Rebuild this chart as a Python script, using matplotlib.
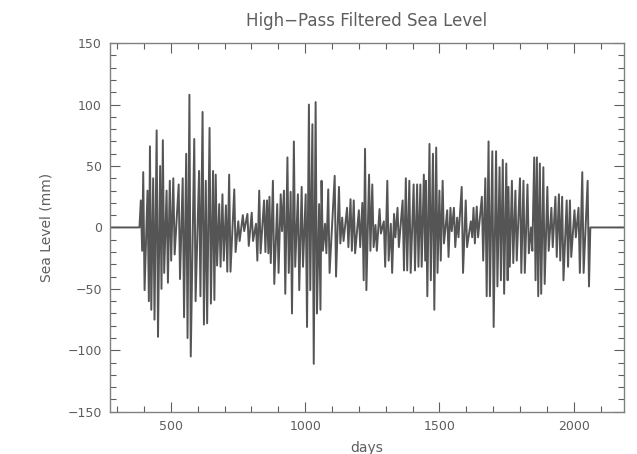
#Timeseries plot of high-pass filtered sea level
import numpy as np
import matplotlib
matplotlib.use('Agg')
import matplotlib.pyplot as plt
from matplotlib.ticker import MultipleLocator

#-------------------------------------
#values: one high and one low per fortnightly cycle
high_day = [388, 397, 413, 422, 434, 447, 460, 470, 484, 496, 509, 529, 544, 557, 569, 587,
            605, 618, 630, 644, 657, 667, 680, 692, 705, 717, 736, 751, 768, 785, 801, 817, 829, 847,
            858, 867, 880, 896, 909, 921, 934, 946, 958, 973, 987, 1002, 1014, 1027, 1039, 1052, 1061, 1074, 1086,
            1110, 1126, 1138, 1156, 1169, 1181, 1200, 1213, 1223, 1238, 1250, 1262, 1277, 1293, 1306, 1319, 1331, 1344,
            1363, 1375, 1388, 1404, 1417, 1429, 1442, 1450, 1463, 1476, 1488, 1500, 1512, 1529, 1541, 1554, 1566, 1583, 1598,
            1617, 1627, 1639, 1658, 1671, 1683, 1697, 1711, 1724, 1736, 1749, 1757, 1770, 1783, 1800, 1813, 1828, 1841, 1853, 1863,
            1874, 1887, 1902, 1917, 1932, 1945, 1957, 1974, 1986, 2003, 2018, 2032, 2052]
high_mm = [22, 45, 30, 66, 40, 79, 50, 71, 30, 38, 40, 35, 40, 60, 108, 72,
           46, 94, 38, 81, 46, 43, 19, 27, 18, 43, 31, 5, 10, 11, 12, 3, 30, 22,
           22, 25, 38, 19, 27, 30, 57, 29, 70, 27, 33, 27, 100, 84, 102, 19, 38, 3, 31,
           42, 33, 8, 16, 23, 22, 14, 20, 64, 43, 35, 2, 15, 5, 38, 3, 11, 16,
           22, 40, 38, 35, 35, 35, 43, 38, 68, 60, 65, 30, 38, 14, 16, 16, 8, 33, 22,
           5, 16, 17, 25, 40, 70, 62, 62, 49, 55, 52, 33, 38, 30, 40, 38, 35, 0, 57, 57,
           52, 49, 33, 16, 25, 27, 25, 22, 22, 14, 16, 45, 38]
low_day = [393, 402, 418, 427, 439, 452, 465, 475, 489, 501, 514, 534, 549, 562, 574, 592,
           610, 623, 635, 649, 662, 672, 685, 697, 710, 722, 741, 756, 773, 790, 806, 822, 834, 852,
           863, 872, 885, 901, 914, 926, 939, 951, 963, 978, 992, 1007, 1019, 1032, 1044, 1057, 1066, 1079, 1091,
           1115, 1131, 1143, 1161, 1174, 1186, 1205, 1218, 1228, 1243, 1255, 1267, 1282, 1298, 1311, 1324, 1336, 1349,
           1368, 1380, 1393, 1409, 1422, 1434, 1447, 1455, 1468, 1481, 1493, 1505, 1517, 1534, 1546, 1559, 1571, 1588, 1603,
           1622, 1632, 1644, 1663, 1676, 1688, 1702, 1716, 1729, 1741, 1754, 1762, 1775, 1788, 1805, 1818, 1833, 1846, 1858, 1868,
           1879, 1892, 1907, 1922, 1937, 1950, 1962, 1979, 1991, 2008, 2023, 2037, 2057]
low_mm = [-19, -51, -60, -67, -75, -89, -50, -37, -45, -27, -22, -42, -73, -90, -105, -60,
          -56, -79, -78, -62, -59, -31, -32, -27, -36, -36, -20, -11, -3, -15, -11, -27, -21, -20,
          -21, -29, -46, -37, -3, -54, -37, -70, -32, -51, -32, -81, -51, -111, -70, -67, -19, -21, -37,
          -40, -13, -11, -16, -19, -21, -16, -43, -51, -19, -16, -19, -5, -32, -27, -37, -8, -16,
          -35, -35, -37, -35, -32, -32, -27, -56, -43, -67, -37, -27, -13, -24, -3, -16, -8, -37, -16,
          -8, -13, -8, -27, -56, -56, -81, -48, -43, -54, -43, -32, -29, -27, -37, -37, -21, -19, -43, -56,
          -54, -46, -19, -16, -24, -27, -43, -32, -24, -8, -37, -37, -48]

#flat (zero) padding either side of the record
pad_day = [274, 383, 2062, 2186]
pad_mm = [0, 0, 0, 0]

#-------------------------------------
#stitch highs and lows into one series in time order
days = np.concatenate([pad_day[:2], np.column_stack([high_day, low_day]).ravel(), pad_day[2:]])
sea = np.concatenate([pad_mm[:2], np.column_stack([high_mm, low_mm]).ravel(), pad_mm[2:]])

#-------------------------------------
#initialize figure
fig, axs = plt.subplots(1, 1, figsize=(6.37, 4.54), dpi=100)
plt.subplots_adjust(left=0.173, right=0.979, top=0.905, bottom=0.093)

grey = '#5e5e5e'
axs.plot(days, sea, color='#555555', linewidth=1.4)

axs.set_xlim(274, 2186)
axs.set_ylim(-150, 150)
axs.xaxis.set_major_locator(MultipleLocator(500))
axs.xaxis.set_minor_locator(MultipleLocator(100))
axs.yaxis.set_major_locator(MultipleLocator(50))
axs.yaxis.set_minor_locator(MultipleLocator(10))

#IDL-style box with inward ticks on all sides
axs.tick_params(which='both', direction='in', top=True, right=True, colors=grey, labelsize=9, pad=6)
axs.tick_params(which='major', length=7, width=0.8)
axs.tick_params(which='minor', length=4, width=0.8)
for s in axs.spines.values():
    s.set_color('#808080')
    s.set_linewidth(1.0)

axs.set_title('High\u2212Pass Filtered Sea Level', fontsize=12, color=grey, pad=12)
axs.set_xlabel('days', fontsize=10, color=grey, labelpad=6)
axs.set_ylabel('Sea Level (mm)', fontsize=10, color=grey, labelpad=10)

fig.savefig('out.png', dpi=100)
